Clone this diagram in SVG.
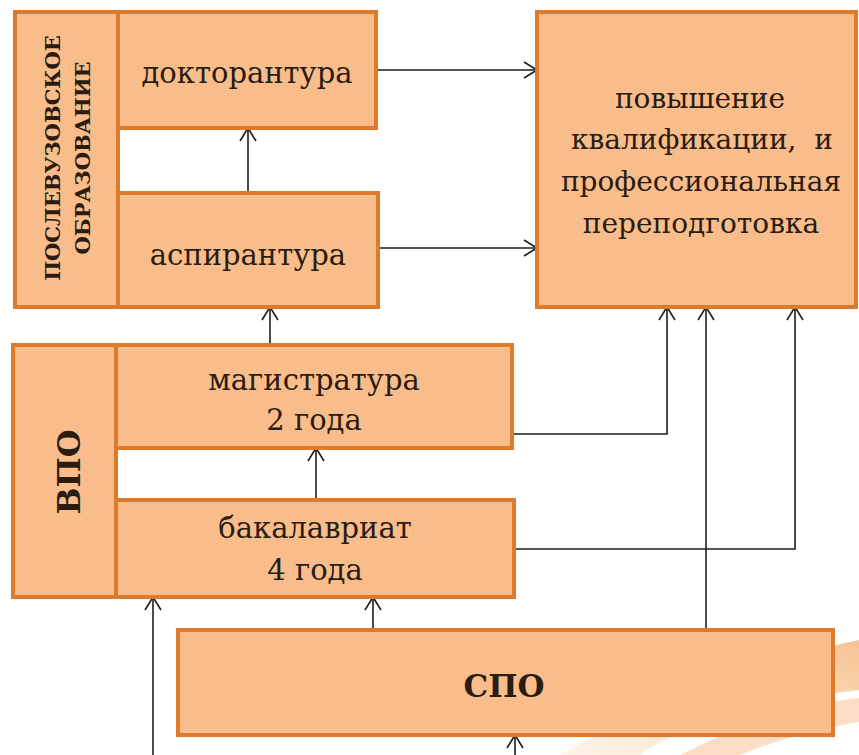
<svg xmlns="http://www.w3.org/2000/svg" width="859" height="755" viewBox="0 0 859 755">
<style>
.box{fill:#F9BD8B;stroke:#DE7A2C;stroke-width:4}
.t{font-family:'DejaVu Serif','Liberation Serif',serif;font-size:29px;fill:#2a1c12;text-anchor:middle}
.r{font-size:28px}
.v{font-size:21px;font-weight:bold}
.b{font-weight:bold}
.c{fill:none;stroke:#1e1e1e;stroke-width:1.6}
</style>
<defs>
<marker id="ah" markerUnits="userSpaceOnUse" markerWidth="20" markerHeight="20" viewBox="-15 -10 17 20" refX="0" refY="0" orient="auto">
<path d="M-13,-8 L0,0 L-13,8" fill="none" stroke="#1e1e1e" stroke-width="1.6"/>
</marker>
<linearGradient id="sw" x1="0" y1="1" x2="1" y2="0">
<stop offset="0" stop-color="#F7B56E" stop-opacity="0.15"/>
<stop offset="1" stop-color="#F29A4A" stop-opacity="0.6"/>
</linearGradient>
</defs>
<rect width="859" height="755" fill="#ffffff"/>
<g id="swoosh">
<path d="M560,755 C660,700 760,660 859,640 L859,690 C770,700 680,725 640,755 Z" fill="url(#sw)"/>
<path d="M680,755 C740,725 800,705 859,698 L859,722 C820,728 770,742 740,755 Z" fill="#F4A05A" fill-opacity="0.35"/>
</g>
<g id="connectors">
<path class="c" d="M376,70 H537" marker-end="url(#ah)"/>
<path class="c" d="M378,248 H537" marker-end="url(#ah)"/>
<path class="c" d="M248,193 V128" marker-end="url(#ah)"/>
<path class="c" d="M270,345 V307" marker-end="url(#ah)"/>
<path class="c" d="M316,500 V448" marker-end="url(#ah)"/>
<path class="c" d="M512,434 H667 V307" marker-end="url(#ah)"/>
<path class="c" d="M514,549 H795 V307" marker-end="url(#ah)"/>
<path class="c" d="M706,630 V307" marker-end="url(#ah)"/>
<path class="c" d="M373,630 V597" marker-end="url(#ah)"/>
<path class="c" d="M153,755 V597" marker-end="url(#ah)"/>
<path class="c" d="M515,755 V735" marker-end="url(#ah)"/>
</g>
<g id="postgrad">
<rect class="box" x="15" y="12" width="103" height="295"/>
<text class="t v" transform="translate(60,158) rotate(-90)">ПОСЛЕВУЗОВСКОЕ</text>
<text class="t v" transform="translate(90,158) rotate(-90)">ОБРАЗОВАНИЕ</text>
</g>
<g id="doktorantura">
<rect class="box" x="118" y="12" width="258" height="116"/>
<text class="t" x="247" y="83">докторантура</text>
</g>
<g id="aspirantura">
<rect class="box" x="118" y="193" width="260" height="114"/>
<text class="t" x="248" y="265">аспирантура</text>
</g>
<g id="povyshenie">
<rect class="box" x="537" y="12" width="319" height="295"/>
<text class="t r" x="700" y="108">повышение</text>
<text class="t r" x="702" y="149" xml:space="preserve">квалификации,  и</text>
<text class="t r" x="701" y="191">профессиональная</text>
<text class="t r" x="701" y="233">переподготовка</text>
</g>
<g id="vpo">
<rect class="box" x="13" y="345" width="103" height="252"/>
<text class="t b" style="font-size:32px" transform="translate(80,472) rotate(-90)">ВПО</text>
</g>
<g id="magistratura">
<rect class="box" x="116" y="345" width="396" height="103"/>
<text class="t" x="314" y="390">магистратура</text>
<text class="t" x="314" y="430">2 года</text>
</g>
<g id="bakalavriat">
<rect class="box" x="116" y="500" width="398" height="97"/>
<text class="t" x="315" y="538">бакалавриат</text>
<text class="t" x="315" y="580">4 года</text>
</g>
<g id="spo">
<rect class="box" x="178" y="630" width="655" height="105"/>
<text class="t b" style="font-size:31px" x="504" y="697">СПО</text>
</g>
</svg>
